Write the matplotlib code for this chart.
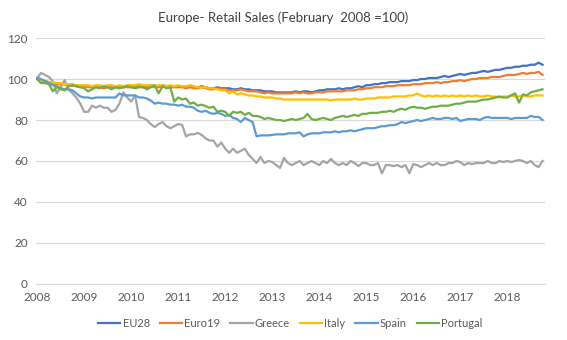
import matplotlib
matplotlib.use("Agg")
import matplotlib.pyplot as plt
import numpy as np

# monthly index values, Jan 2008 .. Oct 2018 (one row per year)
eu28 = [100, 99.5, 99, 98.5, 98, 98, 97.5, 97.5, 97, 97, 96.5, 96.5,
        96.5, 96.5, 96, 96.5, 96, 96, 96.5, 96, 96.5, 96.5, 96, 96.5,
        96.5, 96, 97, 96.5, 96.5, 97, 96.5, 96.5, 97, 96.5, 96.5, 96.5,
        96.5, 96.5, 96, 96.5, 96, 96, 96.5, 96, 95.5, 95.5, 96, 95.5,
        95.5, 95.5, 95, 95, 95.5, 95, 95, 94.5, 94.5, 94.5, 94, 94,
        94, 93.5, 93.5, 93.5, 93.5, 93.5, 94, 93.5, 94, 94, 93.5, 94,
        94.5, 94.5, 95, 95, 95, 95.5, 95, 95.5, 95.5, 96, 96.5, 96,
        97, 97, 97.5, 97.5, 98, 98, 98.5, 98.5, 98.5, 99, 99, 99,
        99.5, 99.5, 100, 100, 100.5, 100.5, 100.5, 101, 101.5, 101, 101.5, 102,
        102.5, 102, 102.5, 103, 103, 103.5, 104, 103.5, 104, 104.5, 104.5, 105,
        105.5, 105.5, 106, 106, 106.5, 106.5, 107, 107, 108, 107]

euro19 = [100, 99.5, 99, 98.5, 98, 97.5, 97.5, 97.5, 97, 97, 96.5, 96.5,
          96.5, 96, 96, 96, 96, 95.5, 96, 96, 96, 96, 96, 96,
          96, 96, 96.5, 96, 96, 96.5, 96, 96, 96.5, 96, 96, 96,
          96, 96, 95.5, 96, 95.5, 95.5, 96, 95.5, 95, 95, 95.5, 95,
          95, 94.5, 94.5, 94.5, 95, 94.5, 94, 94, 94, 93.5, 93, 93.5,
          93, 93, 93, 93, 93, 93, 93.5, 93, 93.5, 93, 93, 93.5,
          93.5, 93.5, 94, 94, 94, 94, 94, 94.5, 94.5, 94.5, 95, 95,
          95.5, 95.5, 96, 96, 96, 96.5, 96.5, 96.5, 97, 97, 97, 97,
          97.5, 97.5, 97.5, 98, 98, 98, 98.5, 98, 98.5, 98.5, 99, 99,
          99.5, 99, 99.5, 100, 100, 100.5, 100.5, 100.5, 101, 101, 101, 101.5,
          102, 102, 102, 102.5, 103, 102.5, 103, 103, 103.5, 102]

greece = [100.5, 103, 102, 101, 99, 93, 96, 99.5, 95, 93, 91, 88,
          84, 84, 87, 86, 87, 86, 86, 84, 85, 88, 93.5, 91,
          89, 92, 81.5, 81, 80, 78, 76.6, 78, 79, 77, 76, 77,
          78, 77.6, 72, 73, 73, 73.7, 72.7, 71, 70, 70, 67, 69,
          66, 64, 66, 64, 65, 66, 63, 61, 59, 62, 59, 60,
          59.5, 58, 56.6, 61.5, 59, 58, 59, 60, 58, 59, 60, 59,
          58, 60, 59, 61, 59, 58, 59, 58, 60, 59, 57.5, 59,
          59, 58, 58, 59, 54, 58, 58, 57.5, 58, 57, 58, 54,
          58.5, 58, 57, 58, 59, 58, 59, 58, 58, 59, 59, 60,
          59.5, 58, 59, 58.5, 59, 59, 59, 60, 59, 59, 60, 59.5,
          60, 59.5, 60, 60.5, 60, 59, 60, 58, 57, 60]

italy = [100, 99.5, 99, 98.5, 98.5, 98, 98, 97.5, 97.5, 97.5, 97, 97,
         97, 97, 96.5, 97, 97, 96.5, 97, 97, 96.5, 97, 96.5, 97,
         97, 97, 97.5, 97, 97, 97, 96.5, 97, 97, 96.5, 97, 96.5,
         97, 96.5, 96.5, 97, 96.5, 96, 96, 96, 95.5, 95.5, 95, 94.5,
         94.5, 93, 94, 92.5, 93, 92.5, 92, 92, 91.5, 91.5, 91, 91,
         91, 90.5, 90.5, 90, 90, 90, 90, 90, 90, 90, 90, 90,
         90, 90, 90, 89.5, 90, 90, 90, 90, 90, 90.5, 90, 90,
         90.5, 90.5, 90.5, 91, 91, 91, 91, 91.5, 91.5, 91.5, 91.5, 92,
         92, 93, 92, 91.5, 92, 91.5, 92, 91.5, 92, 91.5, 92, 91.5,
         92, 91.5, 92, 91.5, 92, 91.5, 91.5, 92, 91.5, 91.5, 91, 91.5,
         91.5, 92, 91.5, 91.5, 92, 91.5, 91.5, 92, 92, 92]

spain = [100.5, 100, 99, 98, 97, 96.5, 95.5, 95, 95, 94.5, 93, 91.5,
         91, 91, 90.5, 91, 91, 91, 91, 91, 91, 93, 92, 92,
         92, 92, 91, 91, 90.5, 89.5, 88, 88.5, 88, 88, 87.5, 87.5,
         87, 87.5, 86.5, 86.5, 86, 84.5, 84, 84.5, 83.5, 83, 83.5, 83,
         82, 82.5, 81, 80.5, 79, 81, 80, 79, 72, 72.5, 72.5, 72.5,
         72.7, 73, 73, 73, 73.5, 73.5, 73.5, 74, 72, 73, 73.5, 73.5,
         73.5, 74, 74, 74, 74.5, 74, 74.5, 74.5, 75, 74.5, 75, 75.5,
         76, 76, 76, 76.5, 77, 77, 77.5, 77.5, 78, 79, 78.5, 79,
         79.5, 80, 79.5, 80, 80.5, 81, 80.5, 80.5, 81, 81, 80.5, 81,
         79.5, 80, 80.5, 80.5, 80.5, 80, 81, 81.5, 81, 81, 81, 81,
         81, 80.5, 81, 81, 81, 81, 82, 81.5, 81.5, 80]

portugal = [100, 98, 98, 97.5, 94, 96, 95, 94.5, 96.5, 97, 96.5, 96,
            95.5, 94, 95, 96, 95.5, 96.5, 96, 95, 96, 95.5, 96, 96.5,
            96, 95.5, 96, 96, 95, 96, 97, 93, 96.5, 95.5, 96, 89,
            91, 90, 90.5, 88, 88.5, 87, 87.5, 86.8, 86, 86.5, 84, 84.5,
            84, 82, 84, 83.5, 84, 82.5, 83.5, 82, 82, 81.5, 80.5, 81,
            80.5, 80, 80, 79.5, 80, 80.5, 80, 80.5, 81, 83, 80.5, 80,
            80.5, 81, 80.5, 80, 81, 81.5, 82, 81.5, 82, 82.5, 82, 83,
            83, 83.5, 83.5, 83.5, 84, 84, 84.5, 84, 85, 85.5, 85, 86,
            86.5, 86, 86, 85.5, 86, 86.5, 86.5, 87, 87, 87, 87.5, 88,
            88, 88.5, 89, 89, 89, 89.5, 90, 90, 90.5, 91, 91.5, 91,
            91, 92, 93, 88.5, 92.5, 92, 93.5, 94, 94.5, 95]

series_names = ["EU28", "Euro19", "Greece", "Italy", "Spain", "Portugal"]
series_data = [eu28, euro19, greece, italy, spain, portugal]
colors = ["#4472C4", "#ED7D31", "#A5A5A5", "#FFC000", "#5B9BD5", "#70AD47"]
years = list(range(2008, 2019))

plt.rcParams["font.family"] = ["Lato", "DejaVu Sans"]

fig = plt.figure(figsize=(5.67, 3.40), dpi=100)
ax = fig.add_axes([0.0635, 0.165, 0.8975, 0.723])

for name, vals, c in zip(series_names, series_data, colors):
    ax.plot(np.arange(len(vals)), vals, color=c, lw=1.6, label=name,
            solid_joinstyle="round")

ax.set_ylim(0, 120)
ax.set_xlim(-0.3, 129.6)
ax.set_yticks(range(0, 121, 20))
ax.set_xticks([12 * i for i in range(len(years))])
ax.set_xticklabels([str(y) for y in years])
ax.grid(axis="y", color="#D9D9D9", lw=0.8)
ax.set_axisbelow(True)
for s in ["top", "right", "left"]:
    ax.spines[s].set_visible(False)
ax.spines["bottom"].set_color("#D9D9D9")
ax.tick_params(length=0, labelsize=8.5, colors="#595959", pad=6)

fig.text(0.5, 0.948, "Europe- Retail Sales (February  2008 =100)",
         ha="center", va="center", fontsize=9.5, color="#404040")

ax.legend(loc="center", bbox_to_anchor=(0.5, -0.16), ncol=6, frameon=False,
          fontsize=8, handlelength=2.0, handletextpad=0.2, columnspacing=0.9,
          labelcolor="#595959")

fig.savefig("out.png", dpi=100)
